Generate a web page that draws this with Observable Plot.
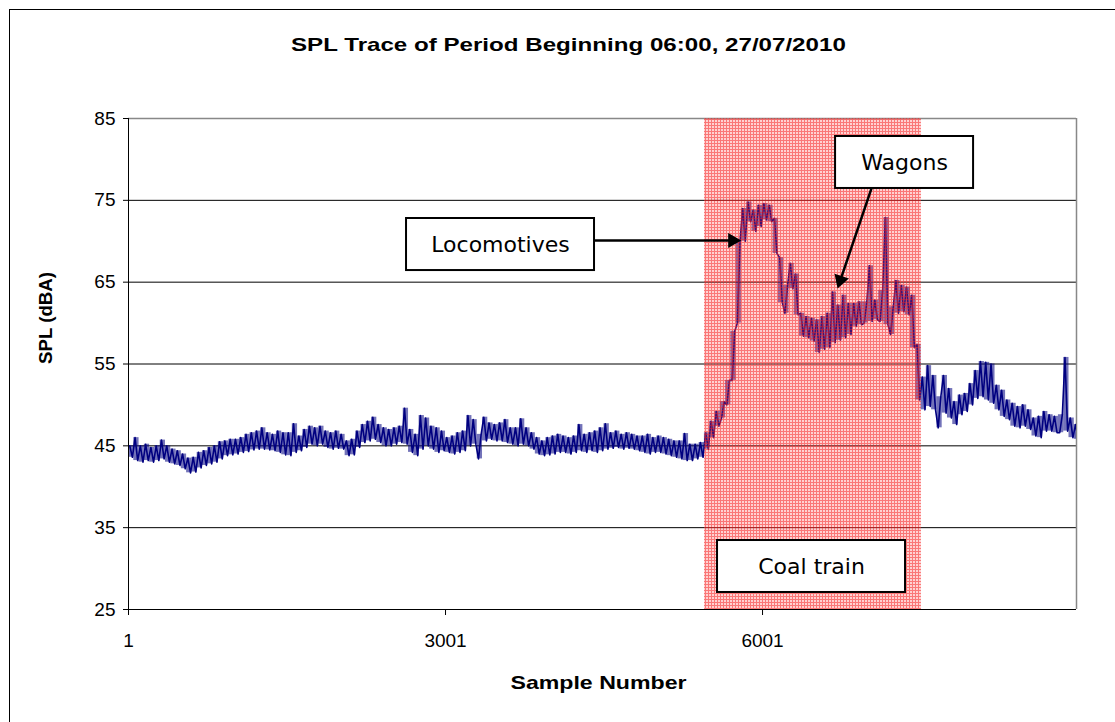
<!DOCTYPE html>
<html>
<head>
<meta charset="utf-8">
<script src="https://cdn.jsdelivr.net/npm/d3@7"></script>
<script src="https://cdn.jsdelivr.net/npm/@observablehq/plot@0.6"></script>
<style>
  html, body { margin: 0; padding: 0; background: #fff; }
  body { width: 1115px; height: 722px; overflow: hidden; position: relative; }
  #frame { position: absolute; left: 9px; top: 9px; width: 1300px; height: 900px;
           border-top: 1px solid #000; border-left: 1px solid #000; }
  #chart { position: absolute; left: 0; top: 0; width: 1115px; }
  #title { height: 80px; box-sizing: border-box; padding-top: 33px; padding-left: 22px;
           font-family: "Liberation Sans", Arial, sans-serif; font-weight: bold; font-size: 19px;
           line-height: 24px; text-align: center; }
  #title span { display: inline-block; transform: scaleX(1.27); transform-origin: center; }
</style>
</head>
<body>
<div id="frame"></div>
<div id="chart">
  <div id="title"><span>SPL Trace of Period Beginning 06:00, 27/07/2010</span></div>
</div>
<script>
// ---- data ----
const sampleCount = 8972;          // last sample number on the x axis
const binSize = 50;                // samples per envelope bin
// lowest / highest SPL (dBA) seen in each 50-sample bin
const splLow = [
  43.6,43.2,43.0,43.2,43.0,43.2,43.4,43.0,42.8,42.6,
  42.2,41.7,41.8,42.3,42.6,42.8,43.0,43.4,43.8,43.9,
  44.0,44.2,44.3,44.5,44.6,44.6,44.5,44.4,44.2,43.9,
  43.8,44.2,44.4,44.8,45.2,45.0,45.2,44.8,44.6,44.7,
  44.6,43.8,43.9,44.8,45.4,45.6,45.8,45.4,45.0,45.0,
  45.2,45.4,45.2,44.2,43.8,44.6,45.0,44.6,44.2,44.4,
  44.2,44.0,44.2,44.4,45.0,45.2,43.4,45.6,45.8,45.6,
  45.6,45.4,45.2,45.0,45.2,45.0,44.6,44.0,43.8,43.9,
  44.0,44.2,44.2,44.0,44.2,44.4,44.2,44.4,44.2,44.4,
  44.6,44.7,44.8,44.6,44.7,44.6,44.4,44.2,44.0,44.2,
  44.2,44.0,43.8,43.6,43.4,43.2,43.2,43.4,43.6,44.6,
  46.0,47.4,48.4,50.0,53.0,60.0,70.0,72.4,71.2,71.8,
  72.6,72.4,68.5,62.5,61.2,64.2,61.0,58.4,58.2,57.8,
  56.4,56.8,57.0,57.6,57.9,58.2,58.6,59.6,59.8,60.0,
  60.2,60.4,60.2,59.8,58.6,61.2,61.4,61.0,57.0,50.6,
  49.4,49.8,49.4,47.2,49.0,48.4,47.6,48.8,49.2,50.0,
  50.8,51.0,50.6,50.2,49.4,48.6,48.2,47.4,47.2,47.4,
  47.0,46.2,46.0,46.8,46.8,46.6,46.6,46.8,46.0,45.8
];
const splHigh = [
  45.0,46.0,45.0,45.2,44.8,45.0,45.7,45.0,44.6,44.4,
  44.0,43.5,43.6,44.2,44.4,44.8,45.0,45.5,45.6,45.8,
  45.8,46.0,46.4,46.6,46.8,47.2,46.6,46.4,46.8,46.6,
  46.6,47.7,46.2,47.0,47.4,47.2,47.4,46.8,46.6,46.8,
  46.4,45.6,45.8,46.8,47.6,48.0,48.5,47.6,47.2,47.0,
  47.2,47.4,49.6,47.0,46.4,48.7,48.4,47.4,47.2,46.8,
  46.0,46.2,46.6,46.8,48.7,48.2,46.4,48.5,47.8,47.6,
  47.8,48.2,47.2,47.2,48.3,47.2,46.6,46.0,45.6,46.0,
  46.2,46.4,46.2,46.0,46.2,47.6,46.4,46.6,46.8,47.2,
  47.7,46.6,46.8,46.4,46.6,46.4,46.2,46.2,46.4,46.0,
  46.2,46.0,45.8,45.6,45.6,46.5,45.2,45.2,45.4,46.6,
  48.0,49.2,50.4,53.0,59.0,70.0,74.0,74.8,73.8,74.4,
  74.6,74.4,72.8,68.0,64.6,67.3,66.0,61.2,60.8,60.6,
  60.4,60.8,61.2,63.8,62.2,63.4,62.4,62.4,62.6,62.6,
  67.0,62.8,64.0,72.9,62.0,65.2,64.6,64.4,63.4,57.4,
  53.4,54.8,53.6,51.0,53.6,52.0,50.4,51.2,51.4,52.6,
  54.2,55.3,55.2,55.0,52.4,51.8,50.6,50.2,49.8,50.0,
  49.4,48.4,48.6,49.2,48.8,48.6,48.8,55.8,48.4,47.6
];
const xTicks = [1, 3001, 6001];
const yTicks = [25, 35, 45, 55, 65, 75, 85];
const trainStart = 5452, trainEnd = 7505;   // shaded "Coal train" period (samples)
// annotation boxes: label, sample range, dBA range, text position
const boxes = [
  {label: "Locomotives", x1: 2632, x2: 4411, y1: 66.42, y2: 72.78, tx: 3521, ty: 69.6},
  {label: "Wagons",      x1: 6692, x2: 7998, y1: 76.45, y2: 82.80, tx: 7345, ty: 79.62},
  {label: "Coal train",  x1: 5575, x2: 7354, y1: 27.08, y2: 33.43, tx: 6465, ty: 30.25}
];
// arrows: start -> arrowhead centre, head rotation
const arrows = [
  {x1: 4411, y1: 70.09, x2: 5717, y2: 70.09, rot: 90},
  {x1: 7032, y1: 76.45, x2: 6737, y2: 65.23, rot: 198.4}
];

// tables built from the arrays above
const bins = splLow.map((lo, i) => ({start: 1 + i * binSize, end: 1 + (i + 1) * binSize, lo, hi: splHigh[i]}));
const trace = [];
bins.forEach((b, i) => {
  const next = bins[i + 1];
  const rising = next && (next.lo + next.hi) - (b.lo + b.hi) > 4;
  const first = rising ? b.lo : b.hi, second = rising ? b.hi : b.lo;
  trace.push({sample: b.start + 12, spl: first});
  trace.push({sample: b.start + 37, spl: second});
});

const defs = () => {
  const g = d3.create("svg:defs");
  const p = g.append("pattern").attr("id", "redgrid").attr("patternUnits", "userSpaceOnUse")
    .attr("width", 3).attr("height", 3);
  p.append("rect").attr("width", 3).attr("height", 3).attr("fill", "rgba(255,70,70,0.25)");
  p.append("rect").attr("width", 3).attr("height", 1).attr("fill", "rgba(245,30,30,0.5)");
  p.append("rect").attr("y", 1).attr("width", 1).attr("height", 2).attr("fill", "rgba(245,30,30,0.5)");
  return g.node();
};

const chart = Plot.plot({
  width: 1115,
  height: 642,
  marginLeft: 128,
  marginRight: 39,
  marginTop: 38,
  marginBottom: 113,
  style: {fontFamily: "'Liberation Sans', Arial, sans-serif", fontSize: "19px", color: "#000",
          background: "transparent", overflow: "visible"},
  x: {domain: [1, sampleCount], ticks: xTicks, tickFormat: d => String(d), tickSize: 6,
      tickPadding: 18, label: null},
  y: {domain: [25, 85], ticks: yTicks, tickSize: 5, tickPadding: 8, label: null},
  marks: [
    defs,
    Plot.ruleY(yTicks.filter(v => v > 25 && v < 85), {stroke: "#000", strokeWidth: 1}),
    Plot.ruleY([85], {stroke: "#888", strokeWidth: 1.5}),
    Plot.ruleX([sampleCount], {stroke: "#888", strokeWidth: 1.5}),
    Plot.rectY(bins, {x1: "start", x2: "end", y1: "lo", y2: "hi", fill: "#000080", fillOpacity: 0.55, clip: true}),
    Plot.line(trace, {x: "sample", y: "spl", stroke: "#000080", strokeWidth: 1.6, clip: true}),
    Plot.rect([{x1: trainStart, x2: trainEnd}], {x1: "x1", x2: "x2", fill: "url(#redgrid)"}),
    Plot.ruleY([25], {stroke: "#000", strokeWidth: 1}),
    Plot.ruleX([1], {stroke: "#000", strokeWidth: 1}),
    Plot.rect(boxes, {x1: "x1", x2: "x2", y1: "y1", y2: "y2", fill: "#fff", stroke: "#000", strokeWidth: 2}),
    Plot.text(boxes, {x: "tx", y: "ty", text: "label", fontFamily: "'DejaVu Sans', Verdana, sans-serif",
                      fontSize: 22}),
    Plot.link(arrows, {x1: "x1", y1: "y1", x2: "x2", y2: "y2", stroke: "#000", strokeWidth: 2.5}),
    Plot.dot(arrows, {x: "x2", y: "y2", symbol: "triangle", r: 5.6, rotate: "rot", fill: "#000", stroke: "none"}),
    Plot.text(["SPL (dBA)"], {frameAnchor: "left", dx: -83, rotate: -90, fontWeight: "bold", fontSize: 19}),
    Plot.text(["Sample Number"], {frameAnchor: "bottom", dy: 79, dx: -4, fontWeight: "bold", fontSize: 19})
  ]
});
// stretch the bold axis titles to the reference's wide lettering
d3.select(chart).selectAll("text").each(function () {
  if (this.textContent === "Sample Number") d3.select(this).attr("textLength", 176).attr("lengthAdjust", "spacingAndGlyphs");
  if (this.textContent === "SPL (dBA)") d3.select(this).attr("textLength", 92).attr("lengthAdjust", "spacingAndGlyphs");
});
document.getElementById("chart").appendChild(chart);
</script>
</body>
</html>
